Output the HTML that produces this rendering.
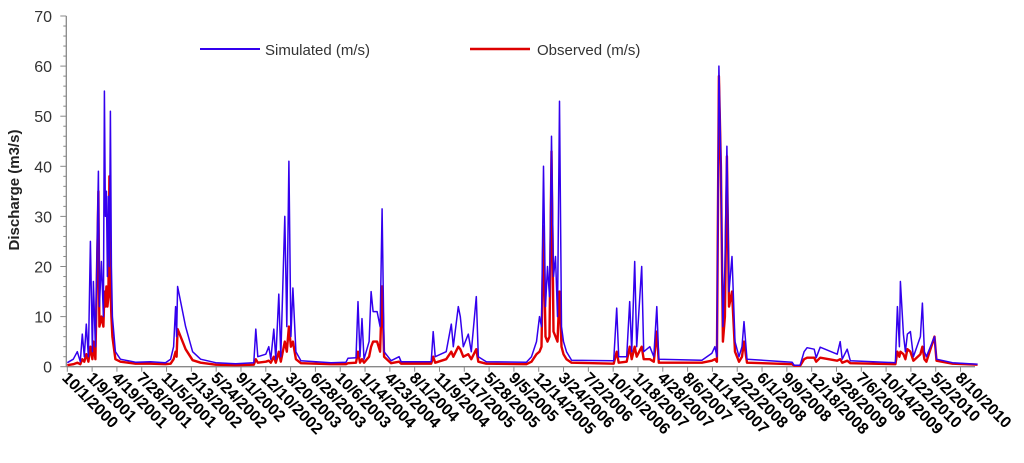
<!DOCTYPE html>
<html><head><meta charset="utf-8"><style>
body{margin:0;background:#fff;}
svg{display:block;font-family:"Liberation Sans",sans-serif;}
</style></head><body>
<svg id="chart" width="1024" height="463">
<g id="axes"></g><g id="series"></g>
<g>
 <line x1="200" y1="49" x2="260" y2="49" stroke="#3300ee" stroke-width="2"/>
 <text x="265" y="55" font-size="15" fill="#333">Simulated (m/s)</text>
 <line x1="470" y1="49" x2="530" y2="49" stroke="#dd0000" stroke-width="2.5"/>
 <text x="537" y="55" font-size="15" fill="#333">Observed (m/s)</text>
</g>
<text transform="translate(19,190) rotate(-90)" text-anchor="middle" font-size="15" font-weight="bold" fill="#222">Discharge (m3/s)</text>
</svg>
<script>
const days=[0,24,40,52,60,68,76,84,92,100,104,112,124,128,136,144,148,152,156,160,164,168,172,176,180,192,212,272,332,392,412,424,432,436,440,472,500,532,592,672,744,752,760,792,804,812,824,832,844,852,868,876,884,892,900,912,932,1052,1112,1120,1152,1160,1168,1176,1184,1204,1212,1220,1236,1248,1256,1264,1292,1324,1332,1452,1460,1468,1512,1532,1540,1560,1568,1580,1600,1612,1632,1640,1672,1832,1852,1872,1884,1892,1900,1908,1916,1924,1932,1940,1948,1956,1964,1972,1980,1992,2012,2180,2192,2200,2232,2244,2252,2264,2272,2292,2300,2324,2340,2352,2360,2532,2572,2584,2592,2600,2608,2616,2624,2632,2640,2652,2664,2680,2692,2700,2712,2892,2900,2924,2940,2952,2980,2988,3004,3072,3084,3092,3112,3124,3304,3312,3320,3324,3336,3344,3352,3364,3376,3404,3412,3420,3428,3460,3468,3532,3632];
const simulated=[0.8,1.5,3,1,6.5,2,8.5,2,25,3,17,4,39,12,21,10,55,30,35,18,34,20,51,20,10,3,1.5,0.9,1,0.8,1.5,4,12,6,16,8,3,1.5,0.8,0.6,0.8,7.5,2,2.5,4,1.5,7.5,1.5,14.5,2,30,8,41,6,15.7,3,1.2,0.8,0.9,1.7,1.8,13,2,9.6,1.5,5,15,11,11,8,31.5,3,1.2,2,1,1,7,2,3,8.5,4,12,10,4,6.5,3,14,2,1,0.9,2,5,10,8,40,12,20,14,46,18,22,10,53,8,5,3,1.3,1.2,11.7,2,2,13,3,21,4,20,3,4,2,12,1.5,1.3,2.7,4,2,60,41,8,20,44,15,22,5,2,4,9,1.5,0.9,0.3,0.3,3,3.8,3.5,1.8,3.9,2.5,5,1.5,3.5,1.2,0.8,12,4,17,6.5,3,6.5,7,2,6,12.7,3,2,6,1.5,0.8,0.5];
const observed=[0.3,0.5,0.8,0.5,1.5,1,2.5,1,4,1.5,5,1.5,35,8,10,8,15,12,16,12,14,38,16,10,6,1.5,1,0.6,0.6,0.5,0.6,1.5,3,2,7.5,3.5,1.3,0.8,0.4,0.3,0.4,1.5,0.8,1,1.2,0.8,2,0.8,3,1,5,3,8,4,5,1.5,0.7,0.5,0.5,0.7,0.8,3,0.8,1.5,0.8,2,4,5,5,3,16,2,0.7,1,0.6,0.6,2,0.8,1.5,3,2,4,3.5,2,2.5,1.5,3.5,1,0.6,0.5,1,2.5,3,4,28,6,5,6,43,7,6,5,15,4,2.5,1.5,0.8,0.6,3,0.8,1,4,1.5,4,2,4,1.5,1.5,1,7,0.8,0.8,1.2,1.5,1,58,40,5,10,42,12,15,3,1,2,5,0.8,0.5,0.2,0.2,1.5,1.8,1.8,1,1.8,1.2,1.5,0.8,1.2,0.7,0.5,3,2,3,2.5,1.5,3.5,3,1.2,2.5,4,1.5,1,6,1.2,0.6,0.4];
const tickLabels=["10/1/2000","1/9/2001","4/19/2001","7/28/2001","11/5/2001","2/13/2002","5/24/2002","9/1/2002","12/10/2002","3/20/2003","6/28/2003","10/6/2003","1/14/2004","4/23/2004","8/1/2004","11/9/2004","2/17/2005","5/28/2005","9/5/2005","12/14/2005","3/24/2006","7/2/2006","10/10/2006","1/18/2007","4/28/2007","8/6/2007","11/14/2007","2/22/2008","6/1/2008","9/9/2008","12/18/2008","3/28/2009","7/6/2009","10/14/2009","1/22/2010","5/2/2010","8/10/2010"];
const yTicks=[0,10,20,30,40,50,60,70];

const NS="http://www.w3.org/2000/svg";
const X0=67.3, PXD=1/3.99, Y0=366.7, PXU=5.01, XR=975;
const xs=d=>X0+d*PXD, ys=v=>Y0-v*PXU;
const axes=document.getElementById('axes'), ser=document.getElementById('series');
function mk(tag,attrs,parent){const e=document.createElementNS(NS,tag);for(const k in attrs)e.setAttribute(k,attrs[k]);parent.appendChild(e);return e;}
let yl=mk('line',{x1:X0-1,y1:ys(70),x2:X0-1,y2:Y0,stroke:'#888','stroke-width':1.3},axes);


let xl=mk('line',{x1:X0-1,y1:Y0,x2:XR,y2:Y0,stroke:'#888','stroke-width':1.3},axes);


for(let v=0;v<=70;v+=2){mk('line',{x1:X0-(v%10?4:7),y1:ys(v),x2:X0-1,y2:ys(v),stroke:'#888'},axes);}
yTicks.forEach(v=>{
 const t=mk('text',{x:52,y:ys(v)+6,'text-anchor':'end','font-size':16,fill:'#333'},axes);
 t.textContent=v;
 
 
});
tickLabels.forEach((lab,i)=>{
 const x=xs(i*99);
 mk('line',{x1:x,y1:Y0,x2:x,y2:Y0+5,stroke:'#888'},axes);
 const t=mk('text',{transform:`translate(${x-6},${Y0+12}) rotate(45)`,'font-size':16,'font-weight':'bold',fill:'#000'},axes);
 t.textContent=lab;
 
 
});
function path(vals,color,w,name){
 const d=vals.map((v,i)=>(i?'L':'M')+xs(days[i]).toFixed(1)+','+ys(v).toFixed(1)).join('');
 const p=mk('path',{d:d,fill:'none',stroke:color,'stroke-width':w,'stroke-linejoin':'round'},ser);
 
 
}
path(observed,'#e00000',2.4,'observed-series');
path(simulated,'#3300ee',1.5,'simulated-series');
</script>
</body></html>
